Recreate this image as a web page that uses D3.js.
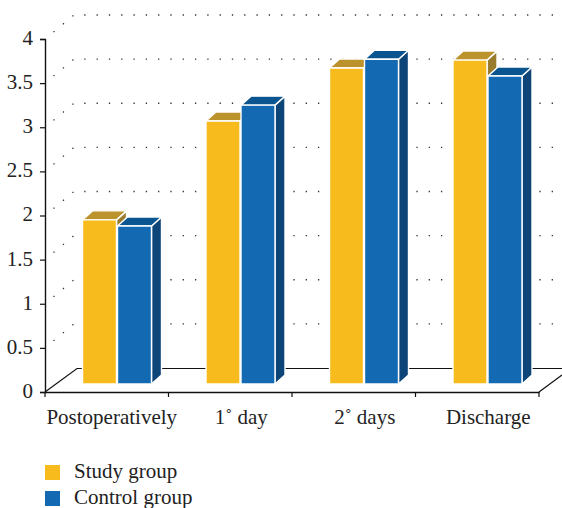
<!DOCTYPE html>
<html><head><meta charset="utf-8">
<script src="https://cdn.jsdelivr.net/npm/d3@7/dist/d3.min.js"></script>
<style>html,body{margin:0;padding:0;background:#fff}svg{display:block}text{font-family:"Liberation Serif",serif;fill:#222}</style>
</head><body><svg id="c" width="562" height="508"></svg>
<script>
const categories=["Postoperatively","1˚ day","2˚ days","Discharge"];
const seriesNames=["Study group","Control group"];
const studyValues=[1.86,2.98,3.58,3.67];
const controlValues=[1.79,3.16,3.68,3.49];
const yTicks=[0,0.5,1,1.5,2,2.5,3,3.5,4];
const frontColors=["#f8bb1e","#136ab3"];
const topColors=["#bb922c","#0a548f"];
const sideColors=["#9a7c2e","#0d4578"];

const svg=d3.select("#c");
const x=d3.scaleBand().domain(categories).range([45,539]);
const y=d3.scaleLinear().domain([0,4]).range([392,39]);
const dx=29,dy=24,floorGap=8,barDx=10,barDy=9;

// back-wall dotted gridlines
svg.append("g").selectAll("path").data(yTicks.slice(1)).join("path")
  .attr("d",v=>`M45,${y(v)}L${45+dx},${y(v)-dy}L562,${y(v)-dy}`)
  .attr("fill","none").attr("stroke","#333").attr("stroke-width",1.3)
  .attr("stroke-dasharray","1.3 11").attr("stroke-dashoffset",-11);
// floor
svg.append("path").attr("d",`M45,${y(0)}L${45+32},${y(0)-23.5}L562,${y(0)-23.5}`)
  .attr("fill","none").attr("stroke","#111").attr("stroke-width",1.2);
svg.append("path").attr("d",`M539,${y(0)}L562,${y(0)-17}`)
  .attr("fill","none").attr("stroke","#111").attr("stroke-width",1.2);

// axes
const ax=svg.append("g").attr("transform",`translate(45,0)`)
  .call(d3.axisLeft(y).tickValues(yTicks).tickSize(5).tickPadding(7).tickFormat(d3.format("~g")));
ax.select(".domain").attr("stroke","#111").attr("stroke-width",1.4);
ax.selectAll(".tick line").attr("stroke","#111").attr("stroke-width",1.2);
ax.selectAll("text").attr("font-size",21).attr("fill","#222").attr("dy","0.26em");

const bx=svg.append("g").attr("transform",`translate(0,${y(0)})`)
  .call(d3.axisBottom(x).tickValues([]).tickSize(0));
bx.select(".domain").attr("stroke","#111").attr("stroke-width",1.4);
svg.append("g").selectAll("line").data(categories.map(c=>x(c)).concat(539)).join("line")
  .attr("x1",d=>d).attr("x2",d=>d).attr("y1",y(0)).attr("y2",y(0)+5)
  .attr("stroke","#111").attr("stroke-width",1.2);

// category labels
svg.append("g").selectAll("text").data(categories).join("text")
  .attr("x",(c,i)=>x(c)+x.bandwidth()/2+(i==0?5:11)).attr("y",424)
  .attr("text-anchor","middle").attr("font-size",21).text(c=>c);

// bars
const base=y(0)-floorGap;
const unit=y(0)-y(1);
const barW=34;
const offs=[37.5,72.5];
[studyValues,controlValues].forEach((vals,s)=>{
  const g=svg.append("g");
  vals.forEach((v,i)=>{
    const l=x(categories[i])+offs[s],r=l+barW,t=base-v*unit;
    const st={stroke:"#fff","stroke-width":1.4,"stroke-linejoin":"miter"};
    const add=(d,f)=>{const p=g.append("path").attr("d",d).attr("fill",f);for(const k in st)p.attr(k,st[k]);};
    add(`M${r},${t}L${r+barDx},${t-barDy}L${r+barDx},${base-barDy}L${r},${base}Z`,sideColors[s]);
    add(`M${l},${t}L${l+barDx},${t-barDy}L${r+barDx},${t-barDy}L${r},${t}Z`,topColors[s]);
    add(`M${l},${t}H${r}V${base}H${l}Z`,frontColors[s]);
  });
});

// legend
const lg=svg.append("g").selectAll("g").data(seriesNames).join("g")
  .attr("transform",(d,i)=>`translate(45,${465+i*26})`);
lg.append("rect").attr("width",15).attr("height",15).attr("fill",(d,i)=>frontColors[i]);
lg.append("text").attr("x",29).attr("y",13).attr("font-size",21).text(d=>d);
</script></body></html>
